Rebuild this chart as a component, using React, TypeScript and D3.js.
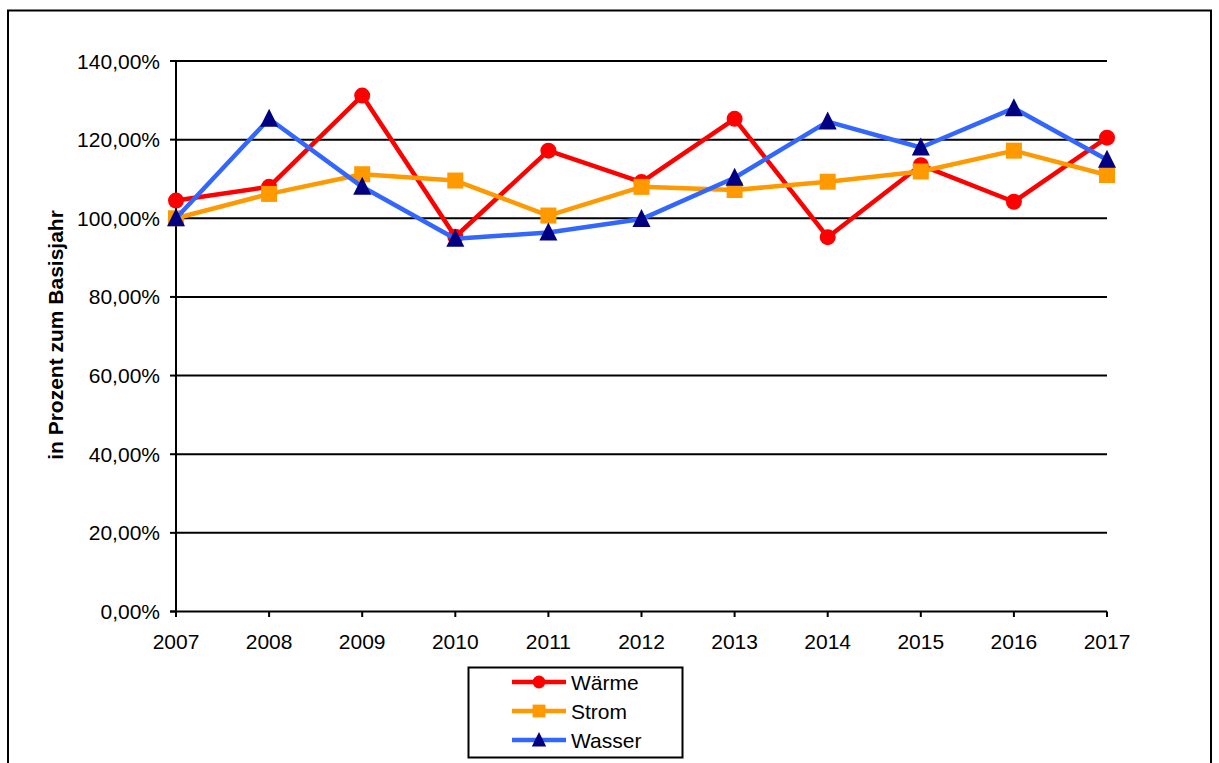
import React from "react";
import * as d3 from "d3";

const years = [2007, 2008, 2009, 2010, 2011, 2012, 2013, 2014, 2015, 2016, 2017];
const waerme = [104.5, 108.0, 131.2, 95.3, 117.2, 109.2, 125.3, 95.2, 113.5, 104.2, 120.5];
const strom = [100.0, 106.2, 111.2, 109.6, 100.7, 108.0, 107.2, 109.3, 111.9, 117.2, 111.0];
const wasser = [100.0, 125.3, 108.0, 94.8, 96.4, 99.8, 110.3, 124.6, 118.0, 128.0, 114.9];
const yTicks = [0, 20, 40, 60, 80, 100, 120, 140];

const series = [
  { name: "Wärme", values: waerme, color: "#ff0000", marker: "circle", markerColor: "#ff0000" },
  { name: "Strom", values: strom, color: "#ff9900", marker: "square", markerColor: "#ff9900" },
  { name: "Wasser", values: wasser, color: "#3366ff", marker: "triangle", markerColor: "#000080" },
];

const FONT = "'Liberation Sans', Arial, sans-serif";

function Marker({ type, x, y, color, s = 1 }: { type: string; x: number; y: number; color: string; s?: number }) {
  if (type === "circle") return <circle cx={x} cy={y} r={8 * s} fill={color} />;
  if (type === "square") return <rect x={x - 8 * s} y={y - 8 * s} width={16 * s} height={16 * s} fill={color} />;
  return <path d={`M${x},${y - 10 * s}L${x + 9 * s},${y + 8 * s}L${x - 9 * s},${y + 8 * s}Z`} fill={color} />;
}

export default function App() {
  const W = 1219, H = 763;
  const x = d3.scaleLinear().domain([2007, 2017]).range([176, 1107]);
  const y = d3.scaleLinear().domain([0, 140]).range([611.5, 61]);
  const line = d3.line<number>().x((_, i) => x(years[i])).y((d) => y(d));
  const fmt = (v: number) => v.toFixed(2).replace(".", ",") + "%";

  return (
    <svg width={W} height={H} style={{ position: "absolute", left: 0, top: 0 }}>
      <rect x={0} y={0} width={W} height={H} fill="#fff" />
      <rect x={8} y={10.5} width={1203} height={770} fill="none" stroke="#000" strokeWidth={2} />
      {yTicks.map((t) => (
        <g key={t}>
          {t > 0 && <line x1={176} x2={1107} y1={y(t)} y2={y(t)} stroke="#000" strokeWidth={2} />}
          <line x1={170} x2={176} y1={y(t)} y2={y(t)} stroke="#000" strokeWidth={2} />
          <text x={160} y={y(t) + 7.5} textAnchor="end" fontFamily={FONT} fontSize={21} fill="#000">
            {fmt(t)}
          </text>
        </g>
      ))}
      {years.map((yr) => (
        <g key={yr}>
          <line x1={x(yr)} x2={x(yr)} y1={611.5} y2={617} stroke="#000" strokeWidth={2} />
          <text x={x(yr)} y={649} textAnchor="middle" fontFamily={FONT} fontSize={21} fill="#000">
            {yr}
          </text>
        </g>
      ))}
      <line x1={176} x2={176} y1={61} y2={612.5} stroke="#000" strokeWidth={2} />
      <line x1={170} x2={1107} y1={611.5} y2={611.5} stroke="#000" strokeWidth={2} />
      <text
        transform={`translate(63,335) rotate(-90)`}
        textAnchor="middle"
        fontFamily={FONT}
        fontSize={21}
        fontWeight="bold"
        fill="#000"
      >
        in Prozent zum Basisjahr
      </text>
      {series.map((s) => (
        <g key={s.name}>
          <path d={line(s.values) || ""} fill="none" stroke={s.color} strokeWidth={4.5} strokeLinejoin="round" />
          {s.values.map((v, i) => (
            <Marker key={i} type={s.marker} x={x(years[i])} y={y(v)} color={s.markerColor} />
          ))}
        </g>
      ))}
      <rect x={468.5} y={667.5} width={214} height={90} fill="#fff" stroke="#000" strokeWidth={2} />
      {series.map((s, i) => {
        const ly = 682 + i * 29;
        return (
          <g key={s.name}>
            <line x1={512} x2={566} y1={ly} y2={ly} stroke={s.color} strokeWidth={4.5} />
            <Marker type={s.marker} x={539} y={ly} color={s.markerColor} s={0.8} />
            <text x={571} y={ly + 8} fontFamily={FONT} fontSize={21} fill="#000">
              {s.name}
            </text>
          </g>
        );
      })}
    </svg>
  );
}
